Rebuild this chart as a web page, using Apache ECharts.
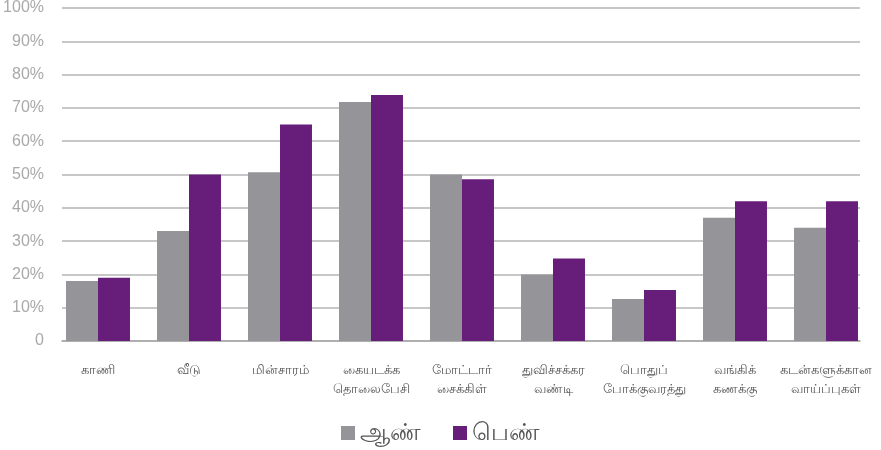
<!DOCTYPE html>
<html><head><meta charset="utf-8">
<script src="https://cdn.jsdelivr.net/npm/echarts@6/dist/echarts.min.js"></script>
<style>html,body{margin:0;padding:0;background:#fff}#c{width:881px;height:450px}</style>
</head><body><div id="c"></div>
<script>
const categories = ['காணி','வீடு','மின்சாரம்','கையடக்க\nதொலைபேசி','மோட்டார்\nசைக்கிள்','துவிச்சக்கர\nவண்டி','பொதுப்\nபோக்குவரத்து','வங்கிக்\nகணக்கு','கடன்களுக்கான\nவாய்ப்புகள்'];
const seriesNames = ['ஆண்','பெண்'];
const male = [18, 33, 50.7, 71.8, 50, 20, 12.6, 37, 34];
const female = [19, 50, 65, 73.9, 48.6, 24.8, 15.3, 42, 42];
const yTicks = [0, 10, 20, 30, 40, 50, 60, 70, 80, 90, 100];

const chart = echarts.init(document.getElementById('c'));
const font = "'Noto Sans', 'DejaVu Sans', sans-serif";
chart.setOption({
  animation: false,
  textStyle: {fontFamily: font},
  legend: {
    bottom: 0, left: 'center', itemWidth: 14, itemHeight: 14, itemGap: 32,
    icon: 'rect',
    textStyle: {fontSize: 24, color: '#555', fontFamily: font},
    data: seriesNames
  },
  grid: [
    {left: 62, right: 21, top: 8, bottom: 109, containLabel: false},
    {left: 52.5, right: 9.5, top: 8, bottom: 109, containLabel: false}
  ],
  xAxis: [
    {type: 'category', gridIndex: 0, data: categories,
     axisLine: {lineStyle: {color: '#a8a8a8', width: 1.5}},
     axisTick: {show: false}, axisLabel: {show: false}},
    {type: 'category', gridIndex: 1, data: categories,
     axisLine: {show: false}, axisTick: {show: false},
     axisLabel: {interval: 0, margin: 20, fontSize: 13, color: '#555', lineHeight: 19, fontFamily: font}}
  ],
  yAxis: [
    {type: 'value', gridIndex: 0, min: yTicks[0], max: yTicks[yTicks.length-1], interval: 10,
     axisLine: {show: false}, axisTick: {show: false},
     splitLine: {lineStyle: {color: '#b4b4b4', width: 1.5}},
     axisLabel: {fontSize: 16, color: '#a9a9a9', margin: 18, fontFamily: "'Liberation Sans', Arial, sans-serif",
       formatter: v => v === 0 ? '0' : v + '%'}},
    {type: 'value', gridIndex: 1, min: yTicks[0], max: yTicks[yTicks.length-1], interval: 10,
     show: false, splitLine: {show: false}}
  ],
  series: [
    {name: seriesNames[0], type: 'bar', xAxisIndex: 1, yAxisIndex: 1, data: male, itemStyle: {color: '#959599'}, barGap: '0%', barCategoryGap: '29.7%'},
    {name: seriesNames[1], type: 'bar', xAxisIndex: 1, yAxisIndex: 1, data: female, itemStyle: {color: '#671e7b'}, barGap: '0%', barCategoryGap: '29.7%'}
  ]
});
</script></body></html>
